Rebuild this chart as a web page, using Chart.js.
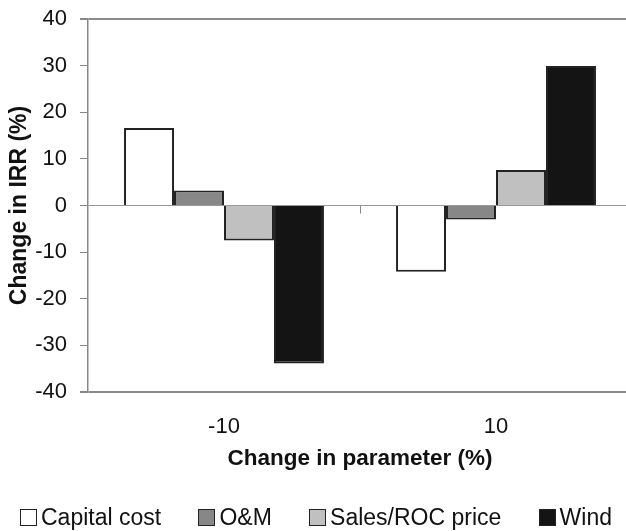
<!DOCTYPE html>
<html>
<head>
<meta charset="utf-8">
<script src="https://cdn.jsdelivr.net/npm/chart.js@4.4.0/dist/chart.umd.min.js"></script>
<style>
  html, body { margin: 0; padding: 0; background: #fff; overflow: hidden; }
  #wrap { position: relative; width: 640px; height: 531px; }
  #legend {
    position: absolute; left: 20px; width: 592px; top: 504px;
    display: flex; justify-content: space-between; align-items: center;
    font-family: 'Liberation Sans', Arial, sans-serif; font-size: 23px; color: #111;
  }
  #legend .item { display: flex; align-items: center; white-space: nowrap; }
  #legend .box { width: 15px; height: 15px; border: 1.5px solid #222; margin-right: 4px; }
</style>
</head>
<body>
<div id="wrap">
  <canvas id="irrChart"></canvas>
  <div id="legend"></div>
</div>
<script>
// Data
const categories = ["-10", "10"];
const seriesNames = ["Capital cost", "O&M", "Sales/ROC price", "Wind"];
const capitalCost = [16.6, -14.2];
const oAndM = [3.2, -3.0];
const salesRoc = [-7.5, 7.6];
const wind = [-33.9, 29.9];
const seriesColors = ["#ffffff", "#878787", "#c0c0c0", "#141414"];
const yTicks = [-40, -30, -20, -10, 0, 10, 20, 30, 40];

const FONT = "'Liberation Sans', Arial, sans-serif";

// short tick mark on the zero line between the two categories
const boundaryTick = {
  id: "boundaryTick",
  afterDatasetsDraw(chart) {
    const x = chart.scales.x, y = chart.scales.y;
    const ctx = chart.ctx;
    const y0 = y.getPixelForValue(0);
    ctx.save();
    ctx.strokeStyle = "#888";
    ctx.lineWidth = 1;
    for (let i = 0; i < categories.length - 1; i++) {
      const xm = (x.getPixelForValue(i) + x.getPixelForValue(i + 1)) / 2;
      ctx.beginPath();
      ctx.moveTo(Math.round(xm) + 0.5, y0);
      ctx.lineTo(Math.round(xm) + 0.5, y0 + 8);
      ctx.stroke();
    }
    ctx.restore();
  }
};

const bar = (i, data) => ({
  label: seriesNames[i],
  data,
  backgroundColor: seriesColors[i],
  borderColor: "#222",
  borderWidth: 2,
  categoryPercentage: 0.735,
  barPercentage: 1.0
});

const chart = new Chart(document.getElementById("irrChart"), {
  type: "bar",
  data: {
    labels: categories,
    datasets: [
      bar(0, capitalCost),
      bar(1, oAndM),
      bar(2, salesRoc),
      bar(3, wind)
    ]
  },
  options: {
    responsive: true,
    maintainAspectRatio: false,
    animation: false,
    layout: { padding: { top: 19, right: 8, left: 0, bottom: 0 } },
    plugins: {
      tooltip: { enabled: false },
      legend: { display: false }
    },
    scales: {
      x: {
        grid: { display: false, drawTicks: false },
        border: { display: false },
        ticks: { color: "#111", padding: 22, font: { family: FONT, size: 22 } },
        title: {
          display: true,
          text: "Change in parameter (%)",
          color: "#111",
          padding: { top: 0, bottom: 59 },
          font: { family: FONT, size: 22.5, weight: "bold" }
        },
        afterFit: (s) => { s.height = 139; }
      },
      y: {
        min: -40,
        max: 40,
        afterBuildTicks: (s) => { s.ticks = yTicks.map(v => ({ value: v })); },
        ticks: { color: "#111", padding: 13, font: { family: FONT, size: 22 } },
        border: { display: true, color: "#888", width: 1.5 },
        grid: {
          drawTicks: true,
          tickLength: 8,
          tickColor: "#888",
          color: (c) => {
            const v = c.tick.value;
            if (v === 40 || v === -40) return "#8a8a8a";
            if (v === 0) return "#999";
            return "rgba(0,0,0,0)";
          },
          lineWidth: (c) => (c.tick.value === 40 || c.tick.value === -40) ? 2 : 1
        },
        title: {
          display: true,
          text: "Change in IRR (%)",
          color: "#111",
          padding: { top: 6, bottom: 0 },
          font: { family: FONT, size: 23, weight: "bold" }
        },
        afterFit: (s) => { s.width = 88; s.paddingTop = 0; s.paddingBottom = 0; }
      }
    }
  },
  plugins: [boundaryTick]
});

// HTML legend built from the series arrays
const legend = document.getElementById("legend");
seriesNames.forEach((name, i) => {
  const item = document.createElement("div");
  item.className = "item";
  item.innerHTML = `<span class="box" style="background:${seriesColors[i]}"></span><span>${name.replace("&", "&amp;")}</span>`;
  legend.appendChild(item);
});
</script>
</body>
</html>
